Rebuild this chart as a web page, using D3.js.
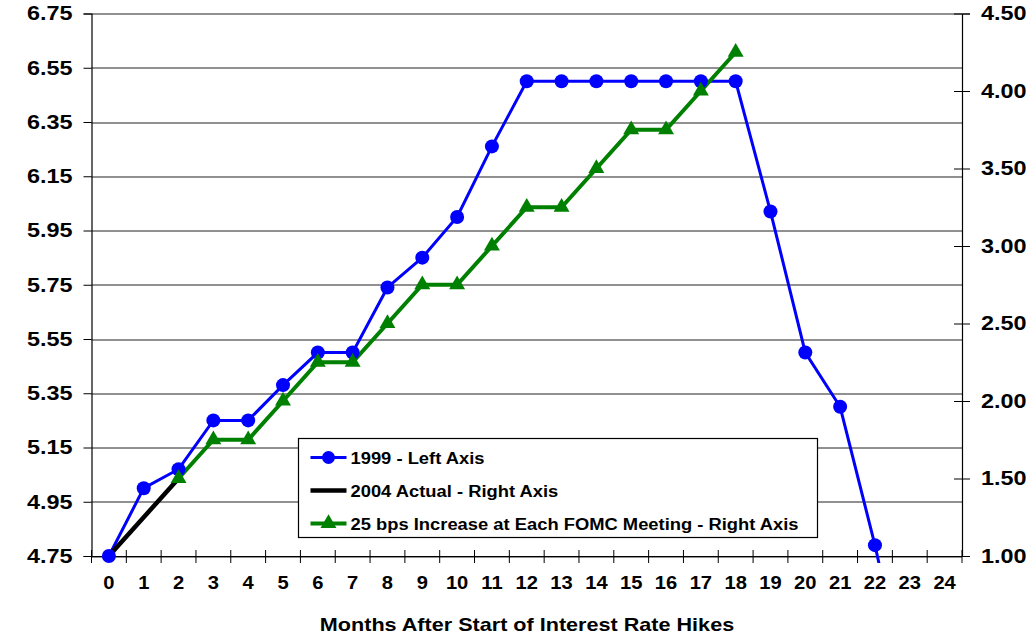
<!DOCTYPE html>
<html>
<head>
<meta charset="utf-8">
<script src="https://cdn.jsdelivr.net/npm/d3@7"></script>
<style>
  body { margin: 0; background: #fff; }
  text { font-family: "Liberation Sans", Arial, sans-serif; font-weight: bold; fill: #000; }
</style>
</head>
<body>
<div id="chart"></div>
<script>
// months 0..24
const months = d3.range(0, 25);
// 1999 fed funds path (left axis); month 23 falls below the axis and is clipped
const rate1999 = [4.75, 5.00, 5.07, 5.25, 5.25, 5.38, 5.50, 5.50, 5.74, 5.85, 6.00, 6.26,
  6.50, 6.50, 6.50, 6.50, 6.50, 6.50, 6.50, 6.02, 5.50, 5.30, 4.79, 4.21];
// 2004 actual (right axis)
const actual2004 = [1.00, 1.25, 1.50];
// 25 bps at each FOMC meeting (right axis), starting month 2
const fomcMonths = d3.range(2, 19);
const fomcPath = [1.50, 1.75, 1.75, 2.00, 2.25, 2.25, 2.50, 2.75, 2.75, 3.00, 3.25, 3.25,
  3.50, 3.75, 3.75, 4.00, 4.25];
const leftTicks = [4.75, 4.95, 5.15, 5.35, 5.55, 5.75, 5.95, 6.15, 6.35, 6.55, 6.75];
const rightTicks = [1.00, 1.50, 2.00, 2.50, 3.00, 3.50, 4.00, 4.50];

const W = 1034, H = 635;
const m = { left: 91.5, right: 72, top: 13.5, bottom: 79 };
const iw = W - m.left - m.right, ih = H - m.top - m.bottom;

const svg = d3.select("#chart").append("svg").attr("width", W).attr("height", H);
const g = svg.append("g").attr("transform", `translate(${m.left},${m.top})`);

// the original chart's lettering is wider than the font: stretch about the anchor x
function stretch(sel, k) {
  sel.each(function () {
    const x0 = +this.getAttribute("x") || 0;
    d3.select(this).attr("transform", `translate(${x0},0) scale(${k},1) translate(${-x0},0)`);
  });
}

const x = d3.scaleBand().domain(months).range([0, iw]);
const xc = d => x(d) + x.bandwidth() / 2;
const yL = d3.scaleLinear().domain([4.75, 6.75]).range([ih, 0]);
const yR = d3.scaleLinear().domain([1.0, 4.5]).range([ih, 0]);

// gridlines
g.append("g").selectAll("line").data(leftTicks).join("line")
  .attr("x1", 0).attr("x2", iw)
  .attr("y1", d => Math.round(yL(d)) + 0.5).attr("y2", d => Math.round(yL(d)) + 0.5)
  .attr("stroke", "#222").attr("stroke-width", 1);

// left axis
const axL = g.append("g").call(d3.axisLeft(yL).tickValues(leftTicks).tickFormat(d3.format(".2f")).tickSize(8).tickPadding(11));
// right axis (ticks cross the axis)
const axR = g.append("g").attr("transform", `translate(${iw},0)`)
  .call(d3.axisRight(yR).tickValues(rightTicks).tickFormat(d3.format(".2f")).tickSize(8).tickPadding(11));
axR.selectAll(".tick line").attr("x1", -8);
// bottom axis: ticks at category boundaries
const axB = g.append("g").attr("transform", `translate(0,${ih})`)
  .call(d3.axisBottom(x).tickSize(0).tickPadding(20));
axB.append("g").selectAll("line").data(d3.range(0, 26)).join("line")
  .attr("x1", i => i * x.step()).attr("x2", i => i * x.step())
  .attr("y1", -6).attr("y2", 7).attr("stroke", "#000");

[axL, axR, axB].forEach(a => {
  a.select(".domain").attr("stroke", "#000").attr("stroke-width", 1.2);
  a.selectAll(".tick line").attr("stroke", "#000");
  a.selectAll("text").attr("fill", "#000").style("font-size", "19.5px").style("font-weight", "bold")
    .style("font-family", '"Liberation Sans", Arial, sans-serif');
});
axB.selectAll("text").style("font-size", "18px");
axB.select(".domain").attr("d", `M0,0.5H${iw}`);
stretch(axL.selectAll(".tick text"), 1.2);
stretch(axR.selectAll(".tick text"), 1.2);
stretch(axB.selectAll(".tick text"), 1.12);

// clip region (lets the falling 1999 line poke just under the axis)
svg.append("clipPath").attr("id", "clip").append("rect")
  .attr("x", 0).attr("y", -20).attr("width", iw).attr("height", ih + 27);
const plot = g.append("g").attr("clip-path", "url(#clip)");

const lineL = d3.line().x((d, i) => xc(i)).y(d => yL(d));
plot.append("path").datum(rate1999).attr("d", lineL)
  .attr("fill", "none").attr("stroke", "#0000ff").attr("stroke-width", 3);

plot.append("path").datum(actual2004)
  .attr("d", d3.line().x((d, i) => xc(i)).y(d => yR(d)))
  .attr("fill", "none").attr("stroke", "#000").attr("stroke-width", 4.5);

plot.append("path").datum(fomcPath)
  .attr("d", d3.line().x((d, i) => xc(fomcMonths[i])).y(d => yR(d)))
  .attr("fill", "none").attr("stroke", "#008000").attr("stroke-width", 4);

plot.append("g").selectAll("circle").data(rate1999).join("circle")
  .attr("cx", (d, i) => xc(i)).attr("cy", d => yL(d)).attr("r", 7).attr("fill", "#0000ff");

const tri = d3.symbol().type(d3.symbolTriangle).size(110);
plot.append("g").selectAll("path").data(fomcPath).join("path")
  .attr("d", tri)
  .attr("transform", (d, i) => `translate(${xc(fomcMonths[i])},${yR(d)})`)
  .attr("fill", "#008000");

// x axis title
const title = svg.append("text").attr("x", 527).attr("y", 631).attr("text-anchor", "middle")
  .style("font-size", "18px").text("Months After Start of Interest Rate Hikes");
stretch(title, 1.2);

// legend
const lg = svg.append("g").attr("transform", "translate(298.5,438.5)");
lg.append("rect").attr("width", 519).attr("height", 99).attr("fill", "#fff").attr("stroke", "#000").attr("stroke-width", 1.2);
const items = [
  { label: "1999 - Left Axis", color: "#0000ff", w: 3, mark: "circle" },
  { label: "2004 Actual - Right Axis", color: "#000", w: 4.5, mark: null },
  { label: "25 bps Increase at Each FOMC Meeting - Right Axis", color: "#008000", w: 4, mark: "tri" }
];
const row = lg.selectAll("g.item").data(items).join("g")
  .attr("transform", (d, i) => `translate(0,${19 + i * 33})`);
row.append("line").attr("x1", 12).attr("x2", 48).attr("y1", 0).attr("y2", 0)
  .attr("stroke", d => d.color).attr("stroke-width", d => d.w);
row.filter(d => d.mark === "circle").append("circle").attr("cx", 30).attr("cy", 0).attr("r", 6.5).attr("fill", d => d.color);
row.filter(d => d.mark === "tri").append("path").attr("d", tri).attr("transform", "translate(30,0)").attr("fill", d => d.color);
stretch(row.append("text").attr("x", 52).attr("y", 6).style("font-size", "17px").text(d => d.label), 1.08);
</script>
</body>
</html>
